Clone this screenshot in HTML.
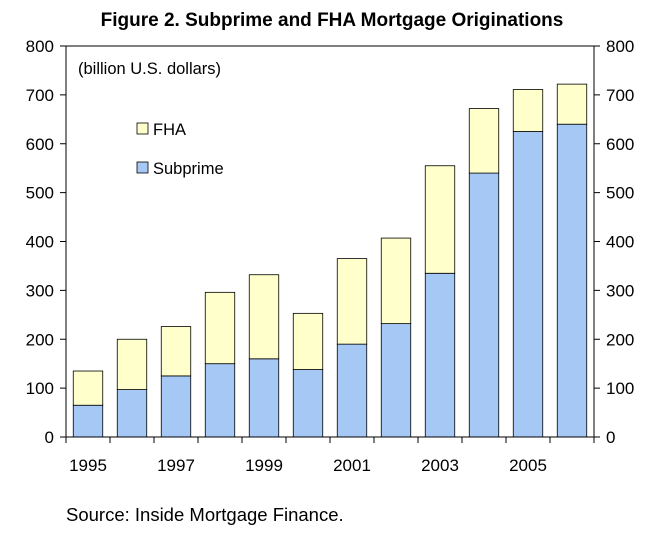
<!DOCTYPE html>
<html><head><meta charset="utf-8"><style>
body{margin:0;background:#fff;}
svg text{font-family:"Liberation Sans",Arial,sans-serif;}
</style></head><body>
<svg width="664" height="542" viewBox="0 0 664 542">
<text x="332" y="26" text-anchor="middle" font-size="19" font-weight="bold">Figure 2. Subprime and FHA Mortgage Originations</text>
<text x="78" y="74" font-size="16.5">(billion U.S. dollars)</text>
<g id="plot"></g>
<g>
<rect x="137" y="123" width="11" height="11" fill="#ffffcc" stroke="#000" stroke-width="0.8"/>
<text x="153" y="135" font-size="16.5">FHA</text>
<rect x="137" y="162" width="11" height="11" fill="#a6c8f5" stroke="#000" stroke-width="0.8"/>
<text x="153" y="174" font-size="16.5">Subprime</text>
</g>
<text x="66" y="521" font-size="18.5">Source: Inside Mortgage Finance.</text>
</svg>
<script>
const years=[1995,1996,1997,1998,1999,2000,2001,2002,2003,2004,2005,2006];
const subprime=[65,97,125,150,160,138,190,232,335,540,625,640];
const totals=[135,200,226,296,332,253,365,407,555,672,711,722];
const yTicks=[0,100,200,300,400,500,600,700,800];
const xLabels=["1995","1997","1999","2001","2003","2005"];
const L=66,R=594,T=46,B=437,ymax=800;
const ns="http://www.w3.org/2000/svg";
const g=document.getElementById('plot');
const step=(R-L)/years.length, bw=step*0.67;
const y=v=>B-(B-T)*v/ymax;
const x=i=>L+step*(i+0.5);
function mk(t,a){const e=document.createElementNS(ns,t);for(const k in a)e.setAttribute(k,a[k]);g.appendChild(e);return e;}
years.forEach((yr,i)=>{
 const s=mk('rect',{x:x(i)-bw/2,y:y(subprime[i]),width:bw,height:B-y(subprime[i]),fill:'#a6c8f5',stroke:'#000','stroke-width':0.8});
 
 
 const f=mk('rect',{x:x(i)-bw/2,y:y(totals[i]),width:bw,height:y(subprime[i])-y(totals[i]),fill:'#ffffcc',stroke:'#000','stroke-width':0.8});
 
 
});
let a=mk('line',{x1:L,y1:T,x2:L,y2:B,stroke:'#000'});


a=mk('line',{x1:R,y1:T,x2:R,y2:B,stroke:'#000'});


a=mk('line',{x1:L,y1:T,x2:R,y2:T,stroke:'#000'});


a=mk('line',{x1:L-6,y1:B,x2:R+6,y2:B,stroke:'#000'});


yTicks.forEach(v=>{
 mk('line',{x1:L-6,y1:y(v),x2:L,y2:y(v),stroke:'#000'});
 mk('line',{x1:R,y1:y(v),x2:R+6,y2:y(v),stroke:'#000'});
 const t1=mk('text',{x:L-12,y:y(v)+6,'text-anchor':'end','font-size':17});t1.textContent=v;
 
 
 const t2=mk('text',{x:R+12,y:y(v)+6,'font-size':17});t2.textContent=v;
 
 
});
for(let i=0;i<=years.length;i++){mk('line',{x1:L+step*i,y1:B,x2:L+step*i,y2:B+6,stroke:'#000'});}
xLabels.forEach(lb=>{
 const i=years.indexOf(+lb);
 const t=mk('text',{x:x(i),y:B+34,'text-anchor':'middle','font-size':17});t.textContent=lb;
 
 
});
</script>
</body></html>
